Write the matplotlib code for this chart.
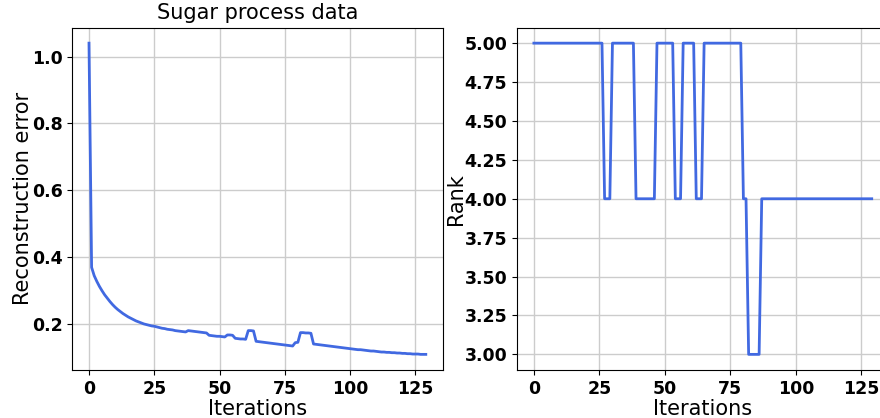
import matplotlib
matplotlib.use("Agg")
import matplotlib.pyplot as plt
import numpy as np

iterations = list(range(130))

recon_error = [
    1.04, 0.370, 0.345, 0.328, 0.313, 0.300, 0.288, 0.278, 0.268, 0.259,
    0.251, 0.244, 0.238, 0.232, 0.227, 0.222, 0.218, 0.214, 0.210, 0.207,
    0.204, 0.201, 0.199, 0.197, 0.195, 0.194, 0.192, 0.190, 0.188, 0.187,
    0.185, 0.184, 0.183, 0.181, 0.180, 0.179, 0.178, 0.177, 0.181, 0.180,
    0.179, 0.178, 0.177, 0.176, 0.175, 0.174, 0.167, 0.166, 0.165, 0.164,
    0.164, 0.163, 0.162, 0.168, 0.168, 0.167, 0.158, 0.157, 0.156, 0.156,
    0.155, 0.181, 0.181, 0.180, 0.149, 0.148, 0.147, 0.146, 0.145, 0.144,
    0.143, 0.142, 0.141, 0.140, 0.139, 0.138, 0.137, 0.136, 0.135, 0.145,
    0.146, 0.175, 0.175, 0.174, 0.174, 0.173, 0.141, 0.140, 0.139, 0.138,
    0.137, 0.136, 0.135, 0.134, 0.133, 0.132, 0.131, 0.130, 0.129, 0.128,
    0.127, 0.126, 0.125, 0.124, 0.124, 0.123, 0.122, 0.121, 0.120, 0.120,
    0.119, 0.118, 0.117, 0.117, 0.116, 0.116, 0.115, 0.115, 0.114, 0.114,
    0.113, 0.113, 0.112, 0.112, 0.111, 0.111, 0.111, 0.110, 0.110, 0.110,
]

rank = (
    [5] * 27 + [4] * 3 + [5] * 9 + [4] * 8 + [5] * 7 + [4] * 3 +
    [5] * 5 + [4] * 3 + [5] * 15 + [4] * 2 + [3] * 5 + [4] * 43
)

left_yticks = [0.2, 0.4, 0.6, 0.8, 1.0]
right_yticks = [3.00, 3.25, 3.50, 3.75, 4.00, 4.25, 4.50, 4.75, 5.00]
xticks = [0, 25, 50, 75, 100, 125]

color = "#4169E1"

fig = plt.figure(figsize=(8.8, 4.18), dpi=100)
ax1 = fig.add_axes([0.082, 0.115, 0.421, 0.819])
ax2 = fig.add_axes([0.5875, 0.115, 0.4223, 0.819])

ax1.plot(iterations, recon_error, color=color, linewidth=2)
ax2.plot(iterations, rank, color=color, linewidth=2)

ax1.set_title("Sugar process data", fontsize=15)
ax1.set_xlabel("Iterations", fontsize=15, labelpad=1)
ax1.set_ylabel("Reconstruction error", fontsize=15, labelpad=-1)
ax2.set_xlabel("Iterations", fontsize=15, labelpad=1)
ax2.set_ylabel("Rank", fontsize=15, labelpad=-1)

ax1.set_yticks(left_yticks)
ax1.set_yticklabels([f"{v:.1f}" for v in left_yticks])
ax2.set_yticks(right_yticks)
ax2.set_yticklabels([f"{v:.2f}" for v in right_yticks])

for ax in (ax1, ax2):
    ax.set_xticks(xticks)
    ax.grid(True, color="#cccccc", linewidth=1)
    ax.set_axisbelow(True)
    for lab in ax.get_xticklabels() + ax.get_yticklabels():
        lab.set_fontweight("bold")
        lab.set_fontsize(12.5)

fig.savefig("out.png", dpi=100)
